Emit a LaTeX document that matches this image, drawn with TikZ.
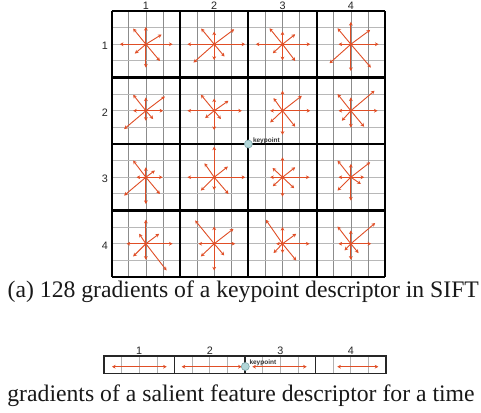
\documentclass[tikz,border=0pt]{standalone}
\usepackage{fontspec}
\setmainfont{Liberation Serif}
\newfontfamily\lsans{Liberation Sans}
\usetikzlibrary{arrows.meta}
\definecolor{arr}{RGB}{224,78,38}
\definecolor{kpfill}{RGB}{178,214,216}
\definecolor{kpdraw}{RGB}{120,160,165}
\tikzset{
  grad/.style={arr, line width=0.9pt, -{Stealth[length=3.6pt,width=3.8pt]}},
  gradtwo/.style={arr, line width=0.8pt, {Stealth[length=3.6pt,width=3.8pt]}-{Stealth[length=3.6pt,width=3.8pt]}},
  thickline/.style={line width=2.2pt, black},
  vthin/.style={black!45, line width=0.6pt},
  hthin/.style={black!28, line width=1.2pt},
  stripline/.style={line width=1.2pt, black!85},
  stripthin/.style={black!30, line width=0.6pt},
  lbl/.style={font=\lsans\fontsize{10.8}{11}\selectfont, inner sep=0pt, text=black!85},
  kp/.style={circle, fill=kpfill, draw=kpdraw, line width=0.6pt, minimum size=8pt, inner sep=0pt},
  kplbl/.style={font=\lsans\bfseries\fontsize{6.5}{6.5}\selectfont, inner sep=0pt, anchor=base west, text=black!80},
  captext/.style={font=\fontsize{23.7}{24}\selectfont, inner sep=0pt, anchor=base, text=black!90},
}
\begin{document}
\begin{tikzpicture}[x=1pt,y=-1pt]
\useasboundingbox (0,0) rectangle (481,412);
\fill[white] (0,0) rectangle (481,412);
% ---- main grid geometry
\def\gx{111.7}\def\gy{11}\def\gw{68.325}\def\gh{66.5}
% thin lines
\foreach \k in {1,2,3,5,6,7,9,10,11,13,14,15}{
  \draw[hthin] (\gx,{\gy+\k*\gh/4}) -- ({\gx+4*\gw},{\gy+\k*\gh/4});
  \draw[vthin] ({\gx+\k*\gw/4},\gy) -- ({\gx+\k*\gw/4},{\gy+4*\gh});
}
% cell centers
\foreach \r in {1,...,4}{
  \foreach \c in {1,...,4}{
    \coordinate (c-\r-\c) at ({\gx+(\c-0.5)*\gw},{\gy+(\r-0.5)*\gh});
  }
}
% gradients
\foreach \r/\c/\lst in {
 1/1/{26.7/0,-26/0,0/-17.3,0/23.3,15.7/-9.7,-12.7/-15.7,14/16.7,-11/9.3},
 1/2/{31/0,-26.7/0,0/-12.7,0/15.7,20/-15,-13/-15.7,10.3/12.3,-20.7/18.3},
 1/3/{27.7/0,-26.7/0,0/-12.7,0/16,12.7/-10,-13/-16,12.7/16.7,-9.7/9},
 1/4/{27.7/0,-12.3/0,0/-22.3,0/26.7,19.3/-14.3,-13.3/-16,20/23.3,-21.3/19},
 2/1/{17.3/0,-12.7/0,0/-13.3,0/10,19/-14.3,-12.7/-16,7.3/8.3,-21.7/18.3},
 2/2/{27.7/0,-26.7/0,0/-12.3,0/19.3,14.3/-10,-13.3/-16,6.7/8.3,-9/7.3},
 2/3/{27.7/0,-12.3/0,0/-20,0/24,19.3/-15,-9/-12.7,12.7/16,-12.3/11.7},
 2/4/{26.7/0,-12.3/0,0/-13.3,0/16.7,23.7/-20,-13.3/-16.7,13.3/16,-9/10},
 3/1/{16.7/0,-9.3/0,0/-10,0/26.7,9/-6.7,-12.7/-16.7,14/16.7,-21.7/18.3},
 3/2/{31/0,-26.7/0,0/-30.7,0/12.7,13.7/-10.7,-9.7/-14,14.3/16.7,-13.3/13.3},
 3/3/{27/0,-12.3/0,0/-20,0/19.3,12.7/-10,-10/-9.3,11.7/11,-9.7/9},
 3/4/{13.3/0,-12.3/0,0/-13.3,0/23.3,19.3/-15,-13.3/-16.7,10/6.7,-13.3/13.3},
 4/1/{26.7/0,-19.3/0,0/-24,0/16,13.3/-10,-6.7/-10,20.7/26.7,-12.7/12.7},
 4/2/{21/0,-15.7/0,0/-17.3,0/26.7,19.3/-15,-19/-23.3,10/11.7,-13.3/12.7},
 4/3/{27/0,-6.3/0,0/-16.7,0/9.3,13.7/-10,-16.7/-24,13.7/16.7,-9/9.3},
 4/4/{20.3/0,-12.3/0,0/-13.3,0/16,24.3/-20.7,-13.3/-17.3,7.7/9.3,-6.3/6.7}}{
  \foreach \dx/\dy in \lst{
    \draw[grad] (c-\r-\c) -- ++(\dx,\dy);
  }
}
% thick lines
\foreach \k in {0,...,4}{
  \draw[thickline] (\gx,{\gy+\k*\gh}) -- ({\gx+4*\gw},{\gy+\k*\gh});
  \draw[thickline] ({\gx+\k*\gw},\gy) -- ({\gx+\k*\gw},{\gy+4*\gh});
}
% labels
\foreach \i in {1,...,4}{
  \node[lbl] (col\i) at ({\gx+(\i-0.5)*\gw},5.5) {\i};
  \node[lbl] (row\i) at (105,{\gy+(\i-0.5)*\gh+1.8}) {\i};
}
% keypoint
\node[kp] (kp) at ({\gx+2*\gw},{\gy+2*\gh}) {};
\node[kplbl] (kplab) at (252.8,142.2) {keypoint};
% caption a
\node[captext] (capa) at (243.3,297.3) {(a) 128 gradients of a keypoint descriptor in SIFT};
% ---- strip
\def\sx{104}\def\sy{356}\def\sw{70.5}\def\sh{17.8}
\foreach \k in {1,2,3,5,6,7,9,10,11,13,14,15}{
  \draw[stripthin] ({\sx+\k*\sw/4},\sy) -- ({\sx+\k*\sw/4},{\sy+\sh});
}
\draw[stripline] (\sx,\sy) rectangle ({\sx+4*\sw},{\sy+\sh});
\foreach \k in {1,2,3}{
  \draw[stripline] ({\sx+\k*\sw},\sy) -- ({\sx+\k*\sw},{\sy+\sh});
}
\foreach \i in {1,...,4}{
  \node[lbl] (scol\i) at ({\sx+(\i-0.5)*\sw},350.5) {\i};
}
\coordinate (s1a) at (112,366.7);   \coordinate (s1b) at (166.7,366.7);
\coordinate (s2a) at (181.7,366.7); \coordinate (s2b) at (241.7,366.7);
\coordinate (s3a) at (252.3,366.7); \coordinate (s3b) at (306.7,366.7);
\coordinate (s4a) at (337.3,366.7); \coordinate (s4b) at (378.3,366.7);
\foreach \i in {1,...,4}{
  \draw[gradtwo] (s\i a) -- (s\i b);
}
\node[kp] (skp) at (245.3,366.5) {};
\node[kplbl] (skplab) at (249.3,364.5) {keypoint};
% caption b
\node[captext] (capb) at (241,401.7) {gradients of a salient feature descriptor for a time};
\end{tikzpicture}
\end{document}
